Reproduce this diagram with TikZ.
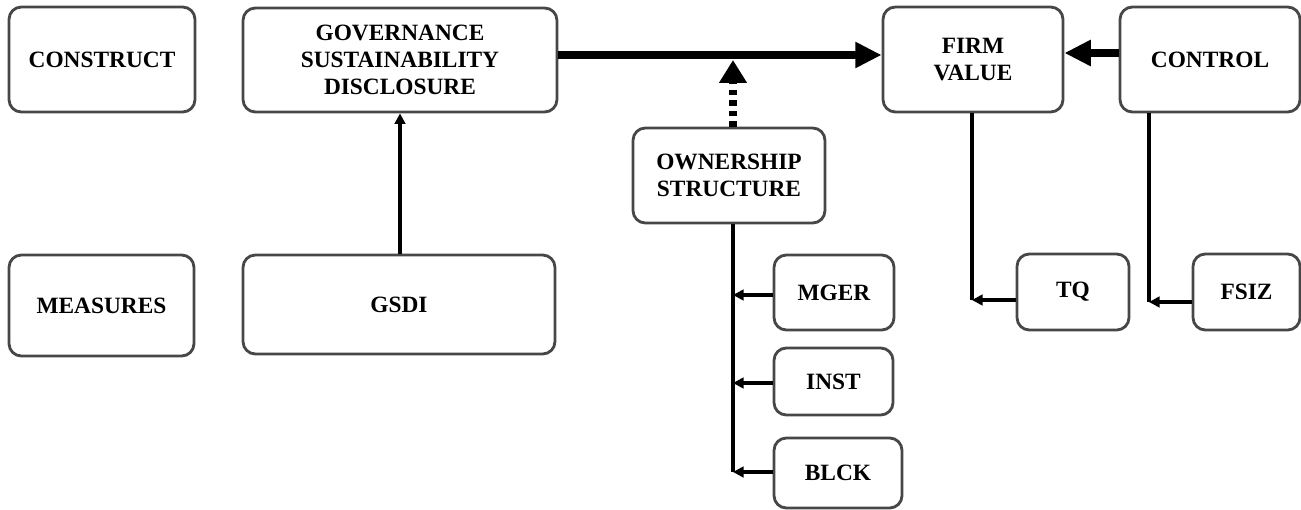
\documentclass[tikz,border=0pt]{standalone}
\usepackage{fontspec}
\setmainfont{Liberation Serif}
\usetikzlibrary{arrows.meta}
\definecolor{edge}{HTML}{474747}
\begin{document}
\begin{tikzpicture}[x=0.02cm,y=-0.02cm,
  box/.style={draw=edge, line width=1.6pt, rounded corners=7pt, fill=white,
    align=center, inner sep=0pt,
    font=\bfseries\fontsize{13.3}{15.4}\selectfont},
  bigarrow/.style={line width=4.4pt, -{Triangle[length=15pt,width=14pt]}},
  dasharrow/.style={line width=4.4pt, dash pattern=on 3pt off 3pt,
    -{Triangle[length=13pt,width=15pt]}},
  link/.style={line width=1.9pt},
  smallarrow/.style={line width=1.9pt, -{Triangle[length=6pt,width=6pt]}}]
\useasboundingbox (0,0) rectangle (1301,510);

% boxes of the upper row
\node[box, minimum width=3.72cm, minimum height=2.10cm] (construct) at (102,59.5) {CONSTRUCT};
\node[box, minimum width=6.28cm, minimum height=2.08cm] (gov) at (400,60) {GOVERNANCE\\SUSTAINABILITY\\DISCLOSURE};
\node[box, minimum width=3.60cm, minimum height=2.10cm] (firm) at (973,59.5) {FIRM\\VALUE};
\node[box, minimum width=3.60cm, minimum height=2.10cm] (control) at (1210,59.5) {CONTROL};
\node[box, minimum width=3.84cm, minimum height=1.90cm] (own) at (729,175.5) {OWNERSHIP\\STRUCTURE};

% boxes of the measures
\node[box, minimum width=3.70cm, minimum height=2.02cm] (measures) at (101.5,305.5) {MEASURES};
\node[box, minimum width=6.24cm, minimum height=1.98cm] (gsdi) at (399,304.5) {GSDI};
\node[box, minimum width=2.40cm, minimum height=1.50cm] (mger) at (834,292.5) {MGER};
\node[box, minimum width=2.38cm, minimum height=1.34cm] (inst) at (833.5,381.5) {INST};
\node[box, minimum width=2.56cm, minimum height=1.40cm] (blck) at (838,473) {BLCK};
\node[box, minimum width=2.24cm, minimum height=1.52cm] (tq) at (1073,292) {TQ};
\node[box, minimum width=2.14cm, minimum height=1.52cm] (fsiz) at (1246.5,292) {FSIZ};

% main relation and moderation
\coordinate (govout) at (gov.east |- 0,55);
\coordinate (firmin) at (firm.west |- 0,55);
\draw[bigarrow] (govout) -- (firmin);
\coordinate (modtip) at (733,60);
\draw[dasharrow] (own.north -| modtip) -- (modtip);
\coordinate (ctrlout) at (control.west |- 0,53);
\coordinate (firmright) at (firm.east |- 0,53);
\draw[bigarrow] (ctrlout) -- (firmright);

% measure links
\draw[smallarrow] (gsdi.north -| 400,0) -- (gov.south -| 400,0);

\coordinate (ownbot) at (733,472);
\draw[link] (own.south -| ownbot) -- (ownbot);
\draw[smallarrow] (mger.west |- 0,295) -- (733,295);
\draw[smallarrow] (inst.west |- 0,383) -- (733,383);
\draw[smallarrow] (blck.west |- 0,472) -- (ownbot);

\coordinate (firmbot) at (972,300);
\draw[link] (firm.south -| firmbot) -- (firmbot);
\draw[smallarrow] (tq.west |- firmbot) -- (firmbot);

\coordinate (ctrlbot) at (1149,302);
\draw[link] (control.south -| ctrlbot) -- (ctrlbot);
\draw[smallarrow] (fsiz.west |- ctrlbot) -- (ctrlbot);
\end{tikzpicture}
\end{document}
